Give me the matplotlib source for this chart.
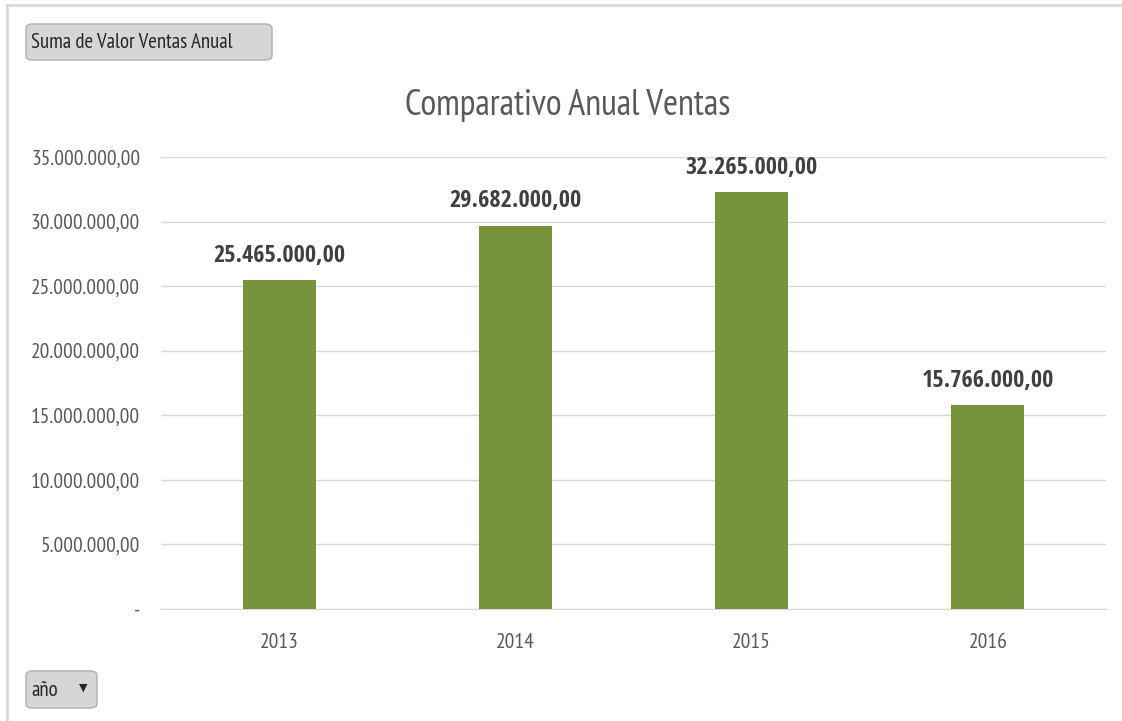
import matplotlib
matplotlib.use("Agg")
import matplotlib.pyplot as plt
from matplotlib.patches import FancyBboxPatch
from matplotlib.lines import Line2D
from matplotlib.ticker import FuncFormatter, MultipleLocator

years = ["2013", "2014", "2015", "2016"]
ventas = [25465000, 29682000, 32265000, 15766000]
title = "Comparativo Anual Ventas"
field_button = "Suma de Valor Ventas Anual"
axis_button = "año"

plt.rcParams['font.family'] = ["PT Sans Narrow", "DejaVu Sans"]
BOLD = ["Open Sans Condensed", "DejaVu Sans"]

def fmt_es(v):
    if v == 0:
        return "-"
    s = f"{v:,.2f}"
    return s.replace(",", "X").replace(".", ",").replace("X", ".")

W, H = 1122, 721
fig = plt.figure(figsize=(W/100, H/100), dpi=100)

ax = fig.add_axes([161/W, 1-609/H, (1106-161)/W, (609-157)/H])
x = list(range(len(years)))
bars = ax.bar(x, ventas, width=0.31, color="#77933C", zorder=3)
ax.set_xlim(-0.5, len(years)-0.5)
ax.set_ylim(0, 35000000)
ax.yaxis.set_major_locator(MultipleLocator(5000000))
ax.yaxis.set_major_formatter(FuncFormatter(lambda v, p: fmt_es(v)))
ax.set_xticks(x)
ax.set_xticklabels(years)
ax.grid(axis="y", color="#D9D9D9", linewidth=1, zorder=0)
for s in ["top", "right", "left"]:
    ax.spines[s].set_visible(False)
ax.spines["bottom"].set_color("#D9D9D9")
ax.tick_params(axis="both", length=0, labelsize=15.5, colors="#595959")
ax.tick_params(axis="x", pad=17)
ax.tick_params(axis="y", pad=15)

for xi, v in zip(x, ventas):
    ax.annotate(fmt_es(v), (xi, v), xytext=(0, 9), textcoords="offset points",
                ha="center", va="bottom", fontsize=17.5, fontweight="bold",
                color="#404040", family=BOLD)

fig.text(568/W, 1-105/H, title, ha="center", va="center", fontsize=26, color="#595959")

# frame lines
fig.add_artist(Line2D([7/W, 7/W], [0, 1-5/H], color="#D9D9D9", linewidth=2))
fig.add_artist(Line2D([7/W, 1], [1-5/H, 1-5/H], color="#D9D9D9", linewidth=2))

# buttons
def button(x0, y0, x1, y1):
    p = FancyBboxPatch((x0/W, 1-y1/H), (x1-x0)/W, (y1-y0)/H,
                       boxstyle="round,pad=0,rounding_size=0.006",
                       transform=fig.transFigure, facecolor="#D6D6D6",
                       edgecolor="#AFAFAF", linewidth=1)
    fig.add_artist(p)

button(26, 24, 272, 60)
fig.text(31/W, 1-43/H, field_button, ha="left", va="center", fontsize=15, color="#262626")
button(26, 671, 97, 708)
fig.text(31/W, 1-690/H, axis_button, ha="left", va="center", fontsize=15, color="#262626")
fig.text(83/W, 1-688/H, "▼", ha="center", va="center", fontsize=8, color="#262626",
         family="DejaVu Sans")

fig.savefig("out.png", dpi=100)
